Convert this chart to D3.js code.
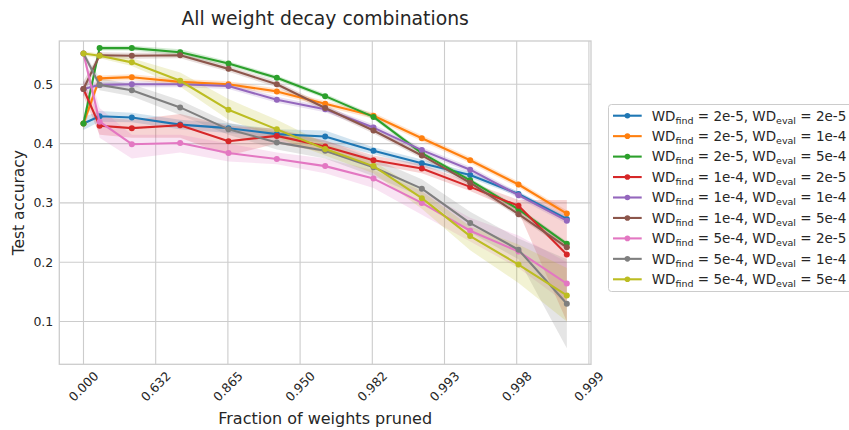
<!DOCTYPE html>
<html>
<head>
<meta charset="utf-8">
<script src="https://cdn.jsdelivr.net/npm/d3@7"></script>
<style>
  html, body { margin: 0; padding: 0; background: #ffffff; }
  svg { display: block; font-family: "DejaVu Sans", sans-serif; }
</style>
</head>
<body>
<svg id="chart" width="849" height="430"></svg>
<script>
// Fraction of weights pruned after each recorded pruning round
const pruned = [0, 0.2, 0.488, 0.737856, 0.865782, 0.931281, 0.964816, 0.981986, 0.990777, 0.995278, 0.997582, 0.998762];

// x ticks sit at whole units of -ln(remaining weights)
const tickDepth = [0, 1, 2, 3, 4, 5, 6, 7];
const tickLabels = ["0.000", "0.632", "0.865", "0.950", "0.982", "0.993", "0.998", "0.999"];
const yTicks = [0.1, 0.2, 0.3, 0.4, 0.5];

const seriesNames = [
  ["2e-5", "2e-5"], ["2e-5", "1e-4"], ["2e-5", "5e-4"],
  ["1e-4", "2e-5"], ["1e-4", "1e-4"], ["1e-4", "5e-4"],
  ["5e-4", "2e-5"], ["5e-4", "1e-4"], ["5e-4", "5e-4"]
];
const colors = ["#1f77b4", "#ff7f0e", "#2ca02c", "#d62728", "#9467bd", "#8c564b", "#e377c2", "#7f7f7f", "#bcbd22"];

// mean test accuracy per series
const mean22 = [0.434, 0.446, 0.444, 0.432, 0.426, 0.416, 0.412, 0.388, 0.367, 0.347, 0.315, 0.273];
const mean21 = [0.434, 0.510, 0.512, 0.504, 0.500, 0.488, 0.467, 0.447, 0.409, 0.372, 0.331, 0.282];
const mean25 = [0.434, 0.561, 0.561, 0.554, 0.535, 0.511, 0.480, 0.445, 0.384, 0.338, 0.289, 0.231];
const mean12 = [0.492, 0.430, 0.426, 0.431, 0.404, 0.413, 0.395, 0.372, 0.358, 0.327, 0.295, 0.213];
const mean11 = [0.492, 0.499, 0.500, 0.500, 0.497, 0.474, 0.458, 0.427, 0.389, 0.356, 0.313, 0.270];
const mean15 = [0.492, 0.549, 0.548, 0.549, 0.526, 0.500, 0.460, 0.422, 0.380, 0.334, 0.281, 0.225];
const mean52 = [0.552, 0.437, 0.399, 0.401, 0.384, 0.374, 0.362, 0.341, 0.300, 0.253, 0.218, 0.164];
const mean51 = [0.552, 0.499, 0.490, 0.461, 0.424, 0.402, 0.388, 0.360, 0.324, 0.266, 0.221, 0.130];
const mean55 = [0.552, 0.548, 0.537, 0.506, 0.457, 0.424, 0.391, 0.362, 0.308, 0.244, 0.196, 0.144];

// lower and upper bounds of the confidence band per series
const lo22 = [0.423, 0.437, 0.436, 0.424, 0.418, 0.410, 0.402, 0.382, 0.361, 0.342, 0.311, 0.268];
const hi22 = [0.445, 0.455, 0.452, 0.440, 0.434, 0.424, 0.422, 0.394, 0.373, 0.352, 0.319, 0.278];
const lo21 = [0.423, 0.505, 0.507, 0.499, 0.495, 0.483, 0.462, 0.442, 0.404, 0.367, 0.326, 0.277];
const hi21 = [0.445, 0.515, 0.517, 0.509, 0.505, 0.493, 0.472, 0.452, 0.414, 0.377, 0.336, 0.287];
const lo25 = [0.423, 0.557, 0.557, 0.549, 0.531, 0.507, 0.476, 0.441, 0.380, 0.334, 0.285, 0.227];
const hi25 = [0.445, 0.565, 0.565, 0.559, 0.539, 0.515, 0.484, 0.449, 0.388, 0.342, 0.293, 0.235];
const lo12 = [0.480, 0.415, 0.410, 0.410, 0.380, 0.400, 0.385, 0.365, 0.350, 0.320, 0.285, 0.100];
const hi12 = [0.505, 0.445, 0.440, 0.450, 0.430, 0.425, 0.405, 0.380, 0.365, 0.335, 0.305, 0.305];
const lo11 = [0.480, 0.494, 0.495, 0.495, 0.492, 0.469, 0.453, 0.422, 0.384, 0.351, 0.308, 0.265];
const hi11 = [0.505, 0.504, 0.505, 0.505, 0.502, 0.479, 0.463, 0.432, 0.394, 0.361, 0.318, 0.275];
const lo15 = [0.480, 0.544, 0.543, 0.544, 0.521, 0.495, 0.455, 0.417, 0.375, 0.329, 0.276, 0.220];
const hi15 = [0.505, 0.554, 0.553, 0.554, 0.531, 0.505, 0.465, 0.427, 0.385, 0.339, 0.286, 0.230];
const lo52 = [0.548, 0.410, 0.375, 0.385, 0.370, 0.365, 0.350, 0.325, 0.280, 0.235, 0.190, 0.130];
const hi52 = [0.556, 0.460, 0.415, 0.415, 0.400, 0.385, 0.375, 0.355, 0.320, 0.275, 0.245, 0.200];
const lo51 = [0.548, 0.490, 0.480, 0.448, 0.415, 0.390, 0.375, 0.345, 0.310, 0.250, 0.205, 0.055];
const hi51 = [0.556, 0.510, 0.500, 0.473, 0.435, 0.420, 0.405, 0.375, 0.340, 0.285, 0.240, 0.205];
const lo55 = [0.548, 0.544, 0.531, 0.496, 0.440, 0.410, 0.380, 0.350, 0.290, 0.220, 0.165, 0.100];
const hi55 = [0.556, 0.552, 0.544, 0.520, 0.475, 0.440, 0.400, 0.370, 0.320, 0.260, 0.230, 0.190];

const means = [mean22, mean21, mean25, mean12, mean11, mean15, mean52, mean51, mean55];
const lows = [lo22, lo21, lo25, lo12, lo11, lo15, lo52, lo51, lo55];
const highs = [hi22, hi21, hi25, hi12, hi11, hi15, hi52, hi51, hi55];

const svg = d3.select("#chart");
const plot = { left: 59.3, right: 591, top: 41, bottom: 364.3 };
const ink = "#262626";
const gridColor = "#cccccc";

const depth = f => -Math.log(1 - f);
const x = d3.scaleLinear().domain([-0.335, 7.029]).range([plot.left, plot.right]);
const y = d3.scaleLinear().domain([0.0278, 0.573]).range([plot.bottom, plot.top]);

// grid
const grid = svg.append("g");
grid.selectAll("line.vx").data(tickDepth).enter().append("line")
  .attr("x1", d => x(d)).attr("x2", d => x(d))
  .attr("y1", plot.top).attr("y2", plot.bottom)
  .attr("stroke", gridColor).attr("stroke-width", 1.1);
grid.selectAll("line.hy").data(yTicks).enter().append("line")
  .attr("x1", plot.left).attr("x2", plot.right)
  .attr("y1", d => y(d)).attr("y2", d => y(d))
  .attr("stroke", gridColor).attr("stroke-width", 1.1);

// confidence bands below all lines
const area = d3.area()
  .x(d => x(depth(d.f)))
  .y0(d => y(d.lo)).y1(d => y(d.hi));
const bands = svg.append("g");
means.forEach((m, i) => {
  const pts = pruned.map((f, j) => ({ f, lo: lows[i][j], hi: highs[i][j] }));
  bands.append("path").datum(pts)
    .attr("d", area)
    .attr("fill", colors[i]).attr("fill-opacity", 0.2);
});

// lines and markers
const line = d3.line().x(d => x(depth(d.f))).y(d => y(d.v));
const lines = svg.append("g");
means.forEach((m, i) => {
  const pts = pruned.map((f, j) => ({ f, v: m[j] }));
  const g = lines.append("g");
  g.append("path").datum(pts)
    .attr("d", line)
    .attr("fill", "none").attr("stroke", colors[i])
    .attr("stroke-width", 2.1).attr("stroke-linejoin", "round").attr("stroke-linecap", "round");
  g.selectAll("circle").data(pts).enter().append("circle")
    .attr("cx", d => x(depth(d.f))).attr("cy", d => y(d.v))
    .attr("r", 3).attr("fill", colors[i]);
});

// frame
svg.append("rect")
  .attr("x", plot.left).attr("y", plot.top)
  .attr("width", plot.right - plot.left).attr("height", plot.bottom - plot.top)
  .attr("fill", "none").attr("stroke", gridColor).attr("stroke-width", 1.3);

// x tick labels, rotated
svg.append("g").selectAll("text").data(tickDepth).enter().append("text")
  .attr("transform", d => `translate(${x(d)},${plot.bottom + 22}) rotate(-45)`)
  .attr("text-anchor", "middle").attr("dominant-baseline", "central")
  .attr("font-size", 12.5).attr("fill", ink)
  .text((d, i) => tickLabels[i]);

// y tick labels
svg.append("g").selectAll("text").data(yTicks).enter().append("text")
  .attr("x", plot.left - 6).attr("y", d => y(d))
  .attr("text-anchor", "end").attr("dominant-baseline", "central")
  .attr("font-size", 12.5).attr("fill", ink)
  .text(d => d3.format(".1f")(d));

// axis titles
svg.append("text")
  .attr("x", (plot.left + plot.right) / 2).attr("y", 424)
  .attr("text-anchor", "middle").attr("font-size", 16).attr("fill", ink)
  .text("Fraction of weights pruned");
svg.append("text")
  .attr("transform", `translate(24,${(plot.top + plot.bottom) / 2}) rotate(-90)`)
  .attr("text-anchor", "middle").attr("font-size", 15.5).attr("fill", ink)
  .text("Test accuracy");
svg.append("text")
  .attr("x", (plot.left + plot.right) / 2).attr("y", 25)
  .attr("text-anchor", "middle").attr("font-size", 18.8).attr("fill", ink)
  .text("All weight decay combinations");

// legend
const legend = svg.append("g");
legend.append("rect")
  .attr("x", 608.5).attr("y", 104.5).attr("width", 250).attr("height", 187)
  .attr("rx", 3).attr("fill", "#ffffff").attr("fill-opacity", 0.8)
  .attr("stroke", gridColor).attr("stroke-width", 1);
seriesNames.forEach((nm, i) => {
  const cy = 115.7 + i * 20.45;
  legend.append("line")
    .attr("x1", 613).attr("x2", 641.7).attr("y1", cy).attr("y2", cy)
    .attr("stroke", colors[i]).attr("stroke-width", 2.1);
  legend.append("circle").attr("cx", 627.4).attr("cy", cy).attr("r", 2.8).attr("fill", colors[i]);
  const t = legend.append("text").attr("x", 651.7).attr("y", cy + 4.8)
    .attr("font-size", 13.5).attr("fill", ink);
  t.append("tspan").text("WD");
  t.append("tspan").attr("font-size", 9.5).attr("dy", 3).text("find");
  t.append("tspan").attr("dy", -3).text(` = ${nm[0]}, WD`);
  t.append("tspan").attr("font-size", 9.5).attr("dy", 3).text("eval");
  t.append("tspan").attr("dy", -3).text(` = ${nm[1]}`);
});
</script>
</body>
</html>
